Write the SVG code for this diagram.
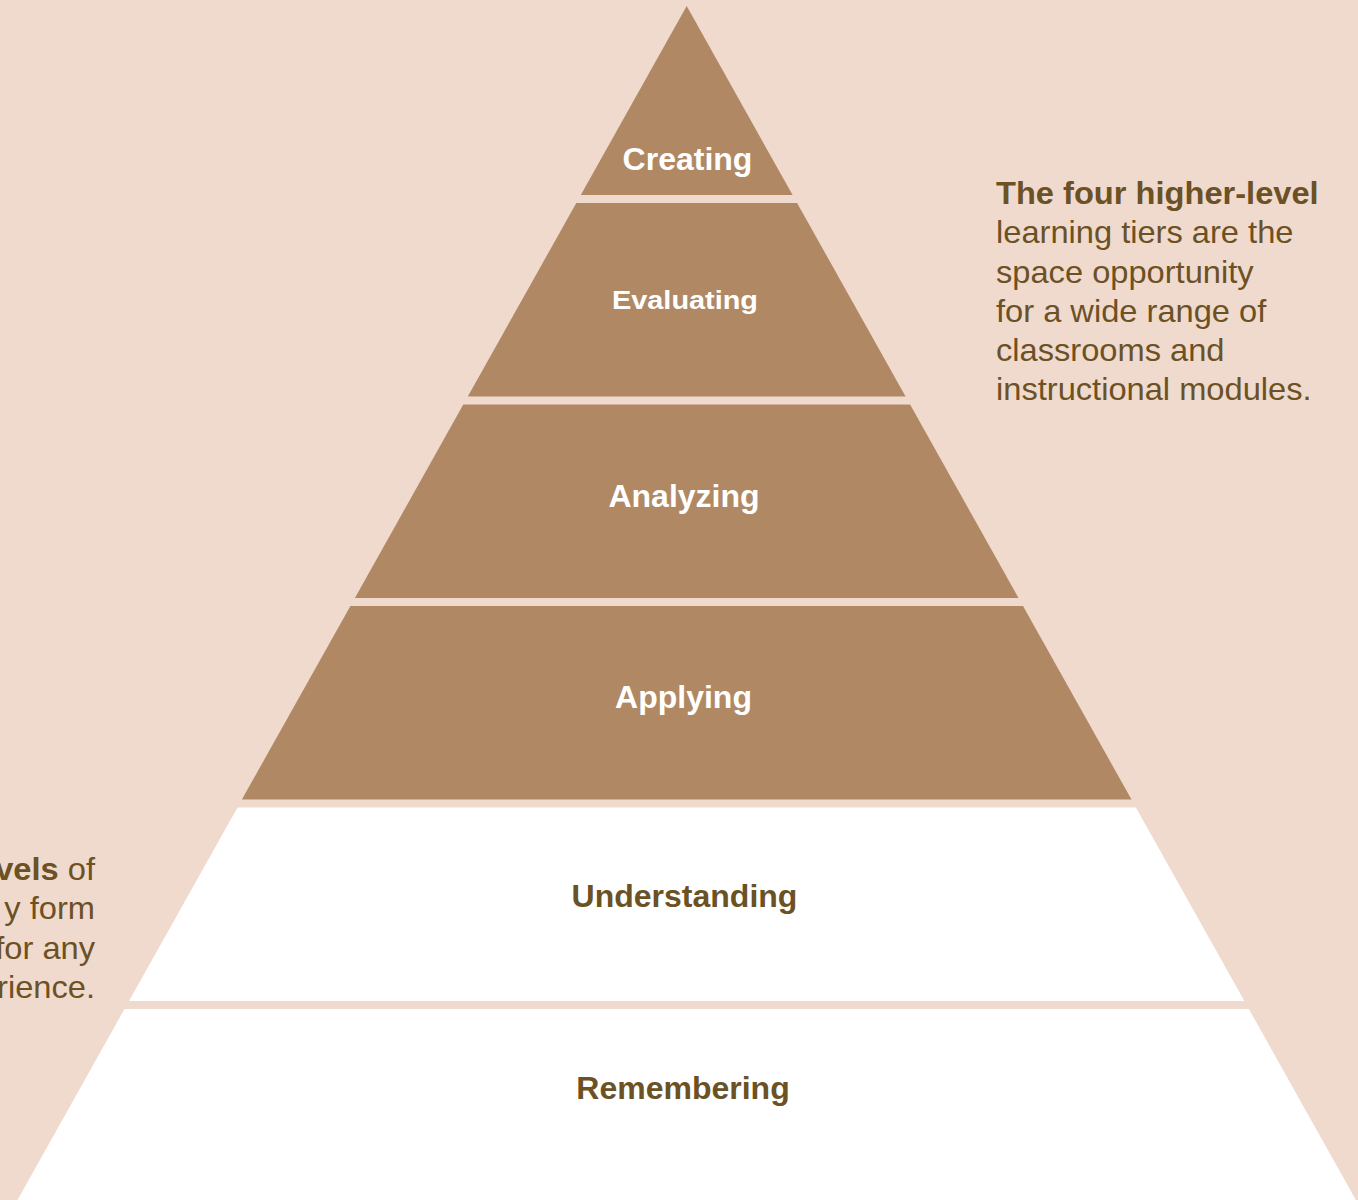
<svg xmlns="http://www.w3.org/2000/svg" width="1358" height="1200" viewBox="0 0 1358 1200">
<style>
.bg{fill:#f0dace}
.hi{fill:#b08964}
.lo{fill:#ffffff}
.lbl{font-family:"Liberation Sans",Arial,sans-serif;font-weight:bold;font-size:32px;text-anchor:middle}
.w{fill:#ffffff}
.d{fill:#6b5124}
.note{font-family:"Liberation Sans",Arial,sans-serif;font-size:30.5px;fill:#6b5124}
.b{font-weight:bold}
</style>
<rect class="bg" x="0" y="0" width="1358" height="1200"/>
<g id="tier-creating">
<polygon class="hi" points="686.7,6 792.6,195 580.8,195"/>
<text class="lbl w" x="687.5" y="170">Creating</text>
</g>
<g id="tier-evaluating">
<polygon class="hi" points="576.3,203 797.1,203 905.6,396.5 467.8,396.5"/>
<text class="lbl w" x="685" y="309" style="font-size:26px" textLength="146" lengthAdjust="spacingAndGlyphs">Evaluating</text>
</g>
<g id="tier-analyzing">
<polygon class="hi" points="463.3,404.5 910.1,404.5 1018.5,598 354.9,598"/>
<text class="lbl w" x="684" y="507">Analyzing</text>
</g>
<g id="tier-applying">
<polygon class="hi" points="350.4,606 1023,606 1131.5,799.5 241.9,799.5"/>
<text class="lbl w" x="683.5" y="708">Applying</text>
</g>
<g id="tier-understanding">
<polygon class="lo" points="237.5,807.5 1135.9,807.5 1244.4,1001 129,1001"/>
<text class="lbl d" x="684.5" y="906.5">Understanding</text>
</g>
<g id="tier-remembering">
<polygon class="lo" points="124.5,1009 1248.9,1009 1361.5,1210 11.9,1210"/>
<text class="lbl d" x="683" y="1099">Remembering</text>
</g>
<g id="note-higher" transform="translate(996,0) scale(1.07,1)">
<text class="note" x="0" y="204"><tspan class="b">The four higher-level</tspan></text>
<text class="note" x="0" y="243.3">learning tiers are the</text>
<text class="note" x="0" y="282.6">space opportunity</text>
<text class="note" x="0" y="321.9">for a wide range of</text>
<text class="note" x="0" y="361.2">classrooms and</text>
<text class="note" x="0" y="400.5">instructional modules.</text>
</g>
<g id="note-lower" transform="translate(95,0) scale(1.07,1)" text-anchor="end">
<text class="note" x="0" y="880"><tspan class="b">vels</tspan> of</text>
<text class="note" x="0" y="919.5">y form</text>
<text class="note" x="0" y="959">for any</text>
<text class="note" x="0" y="998.5">rience.</text>
</g>
<g id="connectors"/>
</svg>
